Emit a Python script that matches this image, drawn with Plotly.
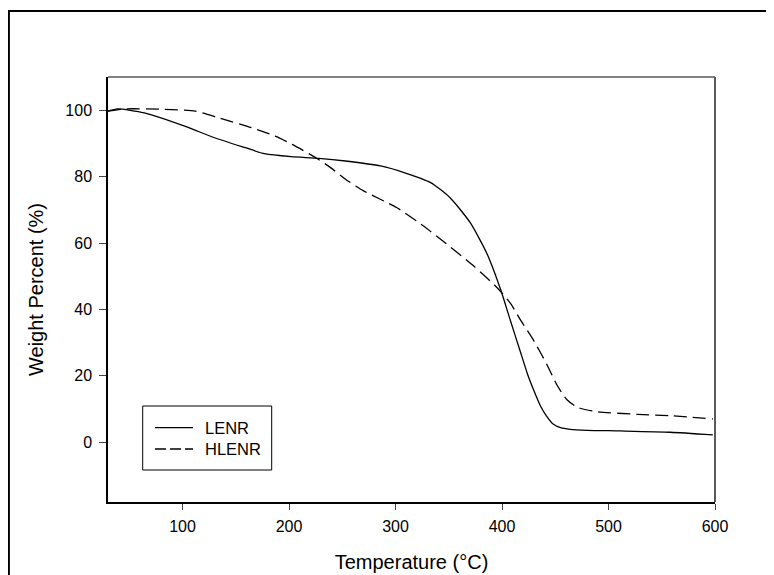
import plotly.graph_objects as go

# LENR (solid)
lenr_t = [30, 39, 64, 102, 130, 159, 177, 202, 228, 253, 286, 310, 333, 351, 370, 386, 399,
          408, 417, 424, 430, 436, 442, 448, 455, 464, 480, 511, 558, 598]
lenr_w = [99.7, 100.4, 99.2, 95.2, 91.7, 88.7, 86.9, 86.0, 85.5, 84.7, 83.2, 81.0, 78.2, 73.7, 66.2, 56.7, 45.7,
          36.5, 27.5, 20.5, 15.5, 11.0, 7.8, 5.5, 4.4, 3.9, 3.6, 3.4, 3.0, 2.2]

# HLENR (dashed)
hlenr_t = [30, 46, 80, 112, 134, 165, 187, 203, 225, 239, 253, 270, 301, 326, 348, 373, 395,
           408, 417, 430, 442, 452, 461, 471, 489, 527, 558, 598]
hlenr_w = [99.7, 100.4, 100.3, 99.7, 97.7, 94.7, 92.2, 89.7, 85.7, 82.7, 79.2, 75.7, 70.7, 65.2, 59.7, 53.2, 46.7,
           41.8, 37.0, 30.5, 23.5, 17.0, 12.8, 10.5, 9.2, 8.4, 8.0, 7.0]

series_names = ["LENR", "HLENR"]
x_ticks = [100, 200, 300, 400, 500, 600]
y_ticks = [0, 20, 40, 60, 80, 100]

FONT = "Liberation Sans, Arial, sans-serif"
LINE_W = 1.3
DASH = "13px,6px"

fig = go.Figure()
fig.add_trace(go.Scatter(x=lenr_t, y=lenr_w, mode="lines", name=series_names[0],
                         line=dict(color="black", width=LINE_W, shape="spline", smoothing=0.6)))
fig.add_trace(go.Scatter(x=hlenr_t, y=hlenr_w, mode="lines", name=series_names[1],
                         line=dict(color="black", width=LINE_W, dash=DASH, shape="spline", smoothing=0.6)))

# figure geometry (figure is placed at page offset 8,8 by the default body margin)
W, H = 766, 567
L, R, T, B = 100, 59, 69, 73
pw, ph = W - L - R, H - T - B

def fx(p):
    return (p - L) / pw

def fy(p):
    return (H - B - p) / ph

shapes = [
    # outer frame (top and left)
    dict(type="line", xref="paper", yref="paper", x0=fx(0), x1=fx(W),
         y0=fy(3), y1=fy(3), line=dict(color="black", width=2.2)),
    dict(type="line", xref="paper", yref="paper", x0=fx(0.8), x1=fx(0.8),
         y0=fy(3), y1=fy(H), line=dict(color="black", width=2.2)),
    # top and right plot border (gray)
    dict(type="line", xref="paper", yref="paper", x0=0, x1=1, y0=1, y1=1,
         line=dict(color="#5a5a5a", width=1.5)),
    dict(type="line", xref="paper", yref="paper", x0=1, x1=1, y0=0, y1=1,
         line=dict(color="#5a5a5a", width=2)),
    # legend box
    dict(type="rect", xref="paper", yref="paper", x0=fx(134.7), x1=fx(263.7),
         y0=fy(398), y1=fy(462), line=dict(color="black", width=1), fillcolor="white"),
    # legend samples
    dict(type="line", xref="paper", yref="paper", x0=fx(147), x1=fx(185),
         y0=fy(419.7), y1=fy(419.7), line=dict(color="black", width=LINE_W)),
    dict(type="line", xref="paper", yref="paper", x0=fx(147), x1=fx(185),
         y0=fy(441), y1=fy(441), line=dict(color="black", width=LINE_W, dash="11px,4px")),
]

annotations = [
    dict(xref="paper", yref="paper", x=fx(194.7), y=fy(419.7), text=series_names[0],
         showarrow=False, xanchor="left", yanchor="middle", font=dict(size=16.5, family=FONT)),
    dict(xref="paper", yref="paper", x=fx(194.7), y=fy(441), text=series_names[1],
         showarrow=False, xanchor="left", yanchor="middle", font=dict(size=16.5, family=FONT)),
]

fig.update_layout(
    width=W, height=H,
    margin=dict(l=L, r=R, t=T, b=B, autoexpand=False),
    paper_bgcolor="white", plot_bgcolor="white",
    font=dict(family=FONT, color="black", size=16),
    shapes=shapes, annotations=annotations,
    showlegend=False,
)
fig.update_xaxes(range=[30, 600], tickvals=x_ticks, ticks="outside", ticklen=6, tickwidth=1,
                 ticklabelstandoff=3, automargin=False,
                 showline=True, linecolor="black", linewidth=1.5, showgrid=False, zeroline=False,
                 tickfont=dict(size=16), title=dict(text="Temperature (°C)", font=dict(size=20), standoff=21))
fig.update_yaxes(range=[-18, 110], tickvals=y_ticks, ticks="outside", ticklen=7, tickwidth=1,
                 ticklabelstandoff=4, automargin=False,
                 showline=True, linecolor="black", linewidth=1.5, showgrid=False, zeroline=False,
                 tickfont=dict(size=16), title=dict(text="Weight Percent (%)", font=dict(size=20), standoff=16))

fig.write_html("out.html")
